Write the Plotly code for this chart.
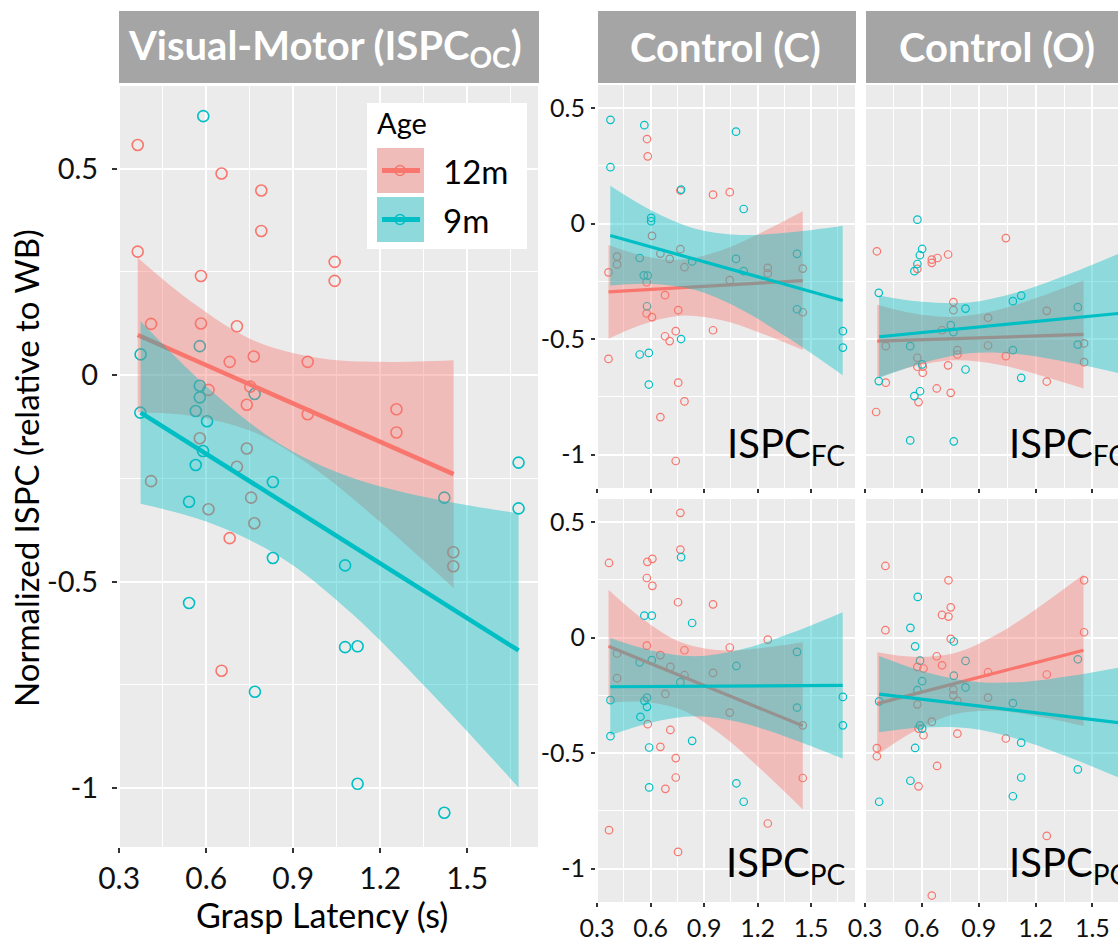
import plotly.graph_objects as go

W, H = 1118, 940
FONT = "Lato, 'Open Sans', sans-serif"
RED = "#F8766D"
TEAL = "#00BFC4"
RED_FILL = "rgba(248,118,109,0.4)"
TEAL_FILL = "rgba(0,191,196,0.4)"

# ---------------- data ----------------
XT = [0.3, 0.6, 0.9, 1.2, 1.5]
XT_TXT = ["0.3", "0.6", "0.9", "1.2", "1.5"]
XM = [0.45, 0.75, 1.05, 1.35, 1.65]
YT = [-1, -0.5, 0, 0.5]
YT_TXT = ["-1", "-0.5", "0", "0.5"]
YM = [-0.75, -0.25, 0.25]

# Visual-Motor (ISPC_OC)
VM_RED_X = [0.364, 0.653, 0.790, 0.790, 0.364, 0.582, 1.043, 1.043, 0.410, 0.582, 0.706, 0.681, 0.764, 0.950, 0.608,
            0.752, 0.740, 0.950, 1.256, 1.256, 0.578, 0.740, 0.706, 0.410, 0.608, 0.755, 0.766, 0.681, 0.653, 1.452, 1.452]
VM_RED_Y = [0.557, 0.488, 0.447, 0.349, 0.299, 0.240, 0.274, 0.228, 0.124, 0.125, 0.118, 0.032, 0.045, 0.032, -0.036,
            -0.028, -0.072, -0.095, -0.083, -0.139, -0.153, -0.178, -0.222, -0.257, -0.325, -0.297, -0.359, -0.395, -0.716, -0.429, -0.463]
VM_TEAL_X = [0.590, 0.374, 0.578, 0.373, 0.578, 0.578, 0.564, 0.603, 0.589, 0.564, 0.767, 1.677, 0.830, 0.541, 0.830,
             1.079, 0.541, 1.079, 1.122, 0.768, 1.122, 1.421, 1.421, 1.677]
VM_TEAL_Y = [0.627, 0.050, 0.070, -0.091, -0.054, -0.026, -0.087, -0.112, -0.184, -0.218, -0.046, -0.212, -0.259, -0.307, -0.443,
             -0.461, -0.552, -0.659, -0.657, -0.767, -0.990, -1.060, -0.297, -0.323]

# Control (C), ISPC_FC
FC_RED_X = [0.580, 0.584, 0.767, 0.950, 1.044, 0.364, 0.412, 0.412, 0.608, 0.655, 0.707, 0.767, 0.790, 1.044, 1.257, 1.257,
            1.453, 1.453, 0.578, 0.681, 0.578, 0.608, 0.755, 0.950, 0.741, 0.681, 0.707, 0.364, 0.755, 0.790, 0.655, 0.741]
FC_RED_Y = [0.366, 0.291, 0.143, 0.125, 0.136, -0.211, -0.143, -0.177, -0.053, -0.130, -0.153, -0.111, -0.189, -0.245, -0.192, -0.216,
            -0.195, -0.384, -0.254, -0.310, -0.389, -0.405, -0.375, -0.462, -0.466, -0.488, -0.509, -0.586, -0.689, -0.770, -0.838, -1.028]
FC_TEAL_X = [0.375, 0.565, 0.375, 1.079, 0.771, 1.122, 0.603, 0.603, 0.539, 0.562, 0.584, 0.833, 1.079, 1.122, 1.421, 1.421,
             0.580, 0.771, 0.539, 0.590, 0.590, 1.678, 1.678]
FC_TEAL_Y = [0.449, 0.426, 0.244, 0.398, 0.147, 0.063, 0.025, 0.010, -0.149, -0.224, -0.225, -0.164, -0.153, -0.206, -0.131, -0.371,
             -0.358, -0.500, -0.567, -0.560, -0.697, -0.466, -0.537]

# Control (O), ISPC_FO
FO_RED_X = [0.362, 0.358, 0.409, 0.409, 0.576, 0.576, 0.582, 0.652, 0.652, 0.682, 0.576, 0.604, 0.604, 0.738, 0.738,
            0.678, 0.752, 0.766, 0.766, 0.787, 0.787, 0.706, 0.949, 0.949, 1.043, 1.043, 1.259, 1.259, 1.456, 1.456]
FO_RED_Y = [-0.120, -0.816, -0.531, -0.689, -0.196, -0.581, -0.773, -0.156, -0.170, -0.149, -0.620, -0.620, -0.646, -0.134, -0.614,
            -0.714, -0.733, -0.340, -0.375, -0.548, -0.567, -0.462, -0.408, -0.528, -0.063, -0.574, -0.378, -0.684, -0.519, -0.600]
FO_TEAL_X = [0.576, 0.601, 0.589, 0.576, 0.560, 0.372, 0.372, 0.538, 0.601, 0.590, 0.560, 0.538, 0.768, 0.766, 0.752,
             0.830, 0.830, 1.080, 1.124, 1.080, 1.124, 1.423, 1.423]
FO_TEAL_Y = [0.017, -0.110, -0.137, -0.175, -0.206, -0.300, -0.682, -0.531, -0.610, -0.726, -0.747, -0.939, -0.943, -0.470, -0.440,
             -0.368, -0.632, -0.336, -0.312, -0.548, -0.668, -0.362, -0.524]

# Control (C), ISPC_PC
PC_RED_X = [0.767, 0.767, 0.367, 0.582, 0.610, 0.579, 0.610, 0.754, 0.950, 0.579, 0.790, 1.044, 1.257, 0.655, 0.412, 0.711,
            0.790, 0.412, 0.683, 0.950, 1.044, 1.453, 0.584, 0.711, 0.655, 0.741, 0.741, 0.683, 1.453, 1.257, 0.367, 0.754]
PC_RED_Y = [0.540, 0.381, 0.323, 0.328, 0.341, 0.258, 0.224, 0.153, 0.144, -0.035, -0.055, -0.043, -0.009, -0.076, -0.069, -0.127,
            -0.163, -0.176, -0.244, -0.153, -0.325, -0.380, -0.375, -0.400, -0.473, -0.522, -0.606, -0.655, -0.608, -0.805, -0.834, -0.928]
PC_TEAL_X = [0.771, 0.565, 0.607, 0.833, 0.539, 0.607, 0.767, 1.081, 1.421, 0.375, 0.565, 0.580, 0.580, 0.543, 0.375, 0.592,
             0.833, 0.592, 1.081, 1.122, 1.421, 1.678, 1.678]
PC_TEAL_Y = [0.348, 0.095, 0.095, 0.063, -0.107, -0.098, -0.193, -0.123, -0.062, -0.271, -0.274, -0.260, -0.300, -0.343, -0.427, -0.476,
             -0.447, -0.649, -0.631, -0.711, -0.303, -0.257, -0.380]

# Control (O), ISPC_PO
PO_RED_X = [0.407, 0.740, 0.752, 0.706, 0.740, 0.407, 0.752, 0.678, 0.706, 0.576, 0.608, 0.949, 1.259, 1.456, 1.456, 0.576,
            0.652, 0.766, 0.766, 0.787, 0.949, 0.582, 0.608, 0.787, 1.043, 0.362, 0.362, 0.680, 0.582, 1.259, 0.652]
PO_RED_Y = [0.310, 0.248, 0.131, 0.098, 0.091, 0.032, -0.006, -0.081, -0.120, -0.127, -0.134, -0.150, -0.160, 0.248, 0.023, -0.289,
            -0.364, -0.225, -0.250, -0.274, -0.260, -0.394, -0.423, -0.416, -0.437, -0.479, -0.514, -0.556, -0.644, -0.859, -1.117]
PO_TEAL_X = [0.578, 0.539, 0.564, 0.768, 0.590, 0.830, 0.601, 0.768, 0.830, 1.423, 0.374, 1.080, 0.576, 0.590, 0.601, 0.564,
             1.124, 0.539, 1.124, 1.080, 1.423, 0.374]
PO_TEAL_Y = [0.176, 0.042, -0.038, -0.017, -0.100, -0.101, -0.189, -0.165, -0.216, -0.094, -0.276, -0.284, -0.228, -0.380, -0.394, -0.478,
             -0.455, -0.620, -0.606, -0.687, -0.571, -0.711]

# fitted lines (ends) and confidence ribbons
FIT_RED_X = [0.364, 1.453]
FIT_TEAL_X = [0.374, 1.677]
BAND_RED_X = [0.364, 0.55, 0.77, 1.0, 1.2, 1.453]
BAND_TEAL_X = [0.374, 0.6, 0.85, 1.1, 1.4, 1.677]

VM_RED_FIT = [0.097, -0.240]
VM_TEAL_FIT = [-0.091, -0.667]
VM_RED_UP = [0.284, 0.177, 0.082, 0.040, 0.032, 0.036]
VM_RED_LO = [-0.090, -0.099, -0.140, -0.240, -0.356, -0.516]
VM_TEAL_UP = [0.130, -0.027, -0.165, -0.248, -0.302, -0.335]
VM_TEAL_LO = [-0.312, -0.355, -0.438, -0.576, -0.788, -0.999]

FC_RED_FIT = [-0.296, -0.247]
FC_TEAL_FIT = [-0.052, -0.333]
FC_RED_UP = [-0.093, -0.138, -0.157, -0.115, -0.047, 0.053]
FC_RED_LO = [-0.499, -0.438, -0.399, -0.419, -0.469, -0.547]
FC_TEAL_UP = [0.164, 0.059, -0.022, -0.049, -0.036, -0.009]
FC_TEAL_LO = [-0.268, -0.261, -0.288, -0.369, -0.510, -0.657]

FO_RED_FIT = [-0.509, -0.480]
FO_TEAL_FIT = [-0.490, -0.386]
FO_RED_UP = [-0.351, -0.388, -0.404, -0.374, -0.323, -0.246]
FO_RED_LO = [-0.667, -0.620, -0.592, -0.610, -0.651, -0.714]
FO_TEAL_UP = [-0.311, -0.339, -0.342, -0.299, -0.211, -0.117]
FO_TEAL_LO = [-0.669, -0.605, -0.562, -0.565, -0.605, -0.655]

PC_RED_FIT = [-0.038, -0.382]
PC_TEAL_FIT = [-0.213, -0.207]
PC_RED_UP = [0.207, 0.084, -0.020, -0.055, -0.047, -0.020]
PC_RED_LO = [-0.283, -0.278, -0.312, -0.423, -0.557, -0.744]
PC_TEAL_UP = [-0.002, -0.055, -0.081, -0.053, 0.023, 0.110]
PC_TEAL_LO = [-0.424, -0.369, -0.341, -0.367, -0.441, -0.524]

PO_RED_FIT = [-0.286, -0.055]
PO_TEAL_FIT = [-0.245, -0.372]
PO_RED_UP = [-0.064, -0.083, -0.068, 0.015, 0.122, 0.273]
PO_RED_LO = [-0.508, -0.410, -0.332, -0.317, -0.340, -0.383]
PO_TEAL_UP = [-0.080, -0.145, -0.189, -0.194, -0.164, -0.124]
PO_TEAL_LO = [-0.410, -0.389, -0.393, -0.438, -0.526, -0.620]

STRIP_LABELS = ["Visual-Motor (ISPC<sub>OC</sub>)", "Control (C)", "Control (O)"]
INSET_LABELS = ["ISPC<sub>FC</sub>", "ISPC<sub>FO</sub>", "ISPC<sub>PC</sub>", "ISPC<sub>PO</sub>"]
LEGEND_TITLE = "Age"
LEGEND_LABELS = ["12m", "9m"]

# ---------------- helpers ----------------
def fx(p):
    return p / W

def fy(p):
    return 1 - p / H

fig = go.Figure()

panels = [
    ("x", "y", VM_RED_X, VM_RED_Y, VM_TEAL_X, VM_TEAL_Y, VM_RED_FIT, VM_TEAL_FIT,
     VM_RED_UP, VM_RED_LO, VM_TEAL_UP, VM_TEAL_LO, 11, 1.6, 4.5),
    ("x2", "y2", FC_RED_X, FC_RED_Y, FC_TEAL_X, FC_TEAL_Y, FC_RED_FIT, FC_TEAL_FIT,
     FC_RED_UP, FC_RED_LO, FC_TEAL_UP, FC_TEAL_LO, 7.5, 1.2, 3.2),
    ("x3", "y3", FO_RED_X, FO_RED_Y, FO_TEAL_X, FO_TEAL_Y, FO_RED_FIT, FO_TEAL_FIT,
     FO_RED_UP, FO_RED_LO, FO_TEAL_UP, FO_TEAL_LO, 7.5, 1.2, 3.2),
    ("x4", "y4", PC_RED_X, PC_RED_Y, PC_TEAL_X, PC_TEAL_Y, PC_RED_FIT, PC_TEAL_FIT,
     PC_RED_UP, PC_RED_LO, PC_TEAL_UP, PC_TEAL_LO, 7.5, 1.2, 3.2),
    ("x5", "y5", PO_RED_X, PO_RED_Y, PO_TEAL_X, PO_TEAL_Y, PO_RED_FIT, PO_TEAL_FIT,
     PO_RED_UP, PO_RED_LO, PO_TEAL_UP, PO_TEAL_LO, 7.5, 1.2, 3.2),
]

for (xa, ya, rx, ry, tx, ty, rfit, tfit, rup, rlo, tup, tlo, ms, mlw, lw) in panels:
    for px_, py_, col in ((rx, ry, RED), (tx, ty, TEAL)):
        fig.add_trace(go.Scatter(x=px_, y=py_, mode="markers", xaxis=xa, yaxis=ya, showlegend=False,
                                 hoverinfo="skip",
                                 marker=dict(symbol="circle-open", size=ms, color=col, line=dict(width=mlw, color=col))))
    for bx, up, lo, fitx, fit, col, fill in ((BAND_RED_X, rup, rlo, FIT_RED_X, rfit, RED, RED_FILL),
                                             (BAND_TEAL_X, tup, tlo, FIT_TEAL_X, tfit, TEAL, TEAL_FILL)):
        fig.add_trace(go.Scatter(x=bx, y=lo, mode="lines", xaxis=xa, yaxis=ya, showlegend=False, hoverinfo="skip",
                                 line=dict(width=0, shape="spline", color="rgba(0,0,0,0)")))
        fig.add_trace(go.Scatter(x=bx, y=up, mode="lines", xaxis=xa, yaxis=ya, showlegend=False, hoverinfo="skip",
                                 fill="tonexty", fillcolor=fill,
                                 line=dict(width=0, shape="spline", color="rgba(0,0,0,0)")))
        fig.add_trace(go.Scatter(x=fitx, y=fit, mode="lines", xaxis=xa, yaxis=ya, showlegend=False, hoverinfo="skip",
                                 line=dict(width=lw, color=col)))

# ---------------- axes ----------------
def xaxis(dom, rng, anchor, big, labels=True):
    return dict(domain=dom, range=rng, anchor=anchor, showgrid=True, gridcolor="white",
                gridwidth=2 if big else 1.5, zeroline=False, showline=False, automargin=False,
                tickmode="array", tickvals=XT, ticktext=XT_TXT, showticklabels=labels,
                ticks="outside", ticklen=5 if big else 4, tickwidth=1.5, tickcolor="#333333",
                ticklabelstandoff=0,
                tickfont=dict(family=FONT, size=30 if big else 25, color="#111111"),
                minor=dict(tickmode="array", tickvals=XM, showgrid=True, gridcolor="white",
                           gridwidth=1.1 if big else 0.8))

def yaxis(dom, rng, anchor, big, labels=True):
    return dict(domain=dom, range=rng, anchor=anchor, showgrid=True, gridcolor="white",
                gridwidth=2 if big else 1.5, zeroline=False, showline=False, automargin=False,
                tickmode="array", tickvals=YT, ticktext=YT_TXT, showticklabels=labels,
                ticks=("outside" if labels else ""), ticklen=5 if big else 4, tickwidth=1.5, tickcolor="#333333",
                ticklabelstandoff=8 if big else 1,
                tickfont=dict(family=FONT, size=29 if big else 25, color="#111111"),
                minor=dict(tickmode="array", tickvals=YM, showgrid=True, gridcolor="white",
                           gridwidth=1.1 if big else 0.8))

XL = [fx(118), fx(538)]
XC = [fx(596), fx(855)]
XO = [fx(864), 1.0]
YL = [fy(847), fy(86)]
YTOP = [fy(488), fy(85)]
YBOT = [fy(902), fy(499)]
RX_L = [0.296, 1.744]
RX_C = [0.294, 1.746]
RX_O = [0.294, 0.294 + (1118 - 864) / 189.4]
RY_L = [-1.143, 0.70]
RY_S = [-1.145, 0.60]

fig.update_layout(
    xaxis=xaxis(XL, RX_L, "y", True),
    yaxis=yaxis(YL, RY_L, "x", True),
    xaxis2=xaxis(XC, RX_C, "y2", False, labels=False),
    yaxis2=yaxis(YTOP, RY_S, "x2", False),
    xaxis3=xaxis(XO, RX_O, "y3", False, labels=False),
    yaxis3=yaxis(YTOP, RY_S, "x3", False, labels=False),
    xaxis4=xaxis(XC, RX_C, "y4", False),
    yaxis4=yaxis(YBOT, RY_S, "x4", False),
    xaxis5=xaxis(XO, RX_O, "y5", False),
    yaxis5=yaxis(YBOT, RY_S, "x5", False, labels=False),
)

shapes = []
annotations = []

# strips
STRIP_BOXES = [(119, 539), (598, 856), (866, 1135)]
STRIP_CENTERS = [325, 725, 997]
for (x0, x1), cx, lab in zip(STRIP_BOXES, STRIP_CENTERS, STRIP_LABELS):
    shapes.append(dict(type="rect", xref="paper", yref="paper", x0=fx(x0), x1=fx(x1), y0=fy(83), y1=fy(11),
                       fillcolor="#A5A5A5", line=dict(width=0), layer="below"))
    annotations.append(dict(xref="paper", yref="paper", x=fx(cx), y=fy(47), text="<b>%s</b>" % lab,
                            showarrow=False, xanchor="center", yanchor="middle",
                            font=dict(family=FONT, size=40, color="white")))

# inset labels
INSET_POS = [(847, 474, "right"), (1007, 474, "left"), (847, 893, "right"), (1007, 893, "left")]
for (x, y, anc), lab in zip(INSET_POS, INSET_LABELS):
    annotations.append(dict(xref="paper", yref="paper", x=fx(x), y=fy(y), text=lab, showarrow=False,
                            xanchor=anc, yanchor="bottom", font=dict(family=FONT, size=40, color="black")))

# axis titles
annotations.append(dict(xref="paper", yref="paper", x=fx(322), y=fy(914), text="Grasp Latency (s)",
                        showarrow=False, xanchor="center", yanchor="middle",
                        font=dict(family=FONT, size=34, color="black")))
annotations.append(dict(xref="paper", yref="paper", x=fx(26), y=fy(468), text="Normalized ISPC (relative to WB)",
                        showarrow=False, xanchor="center", yanchor="middle", textangle=-90,
                        font=dict(family=FONT, size=33, color="black")))

# legend (drawn by hand, ggplot style)
shapes.append(dict(type="rect", xref="paper", yref="paper", x0=fx(367), x1=fx(527), y0=fy(249), y1=fy(103),
                   fillcolor="white", line=dict(width=0)))
annotations.append(dict(xref="paper", yref="paper", x=fx(375), y=fy(122), text=LEGEND_TITLE, showarrow=False,
                        xanchor="left", yanchor="middle", font=dict(family=FONT, size=29, color="black")))
KEY_ROWS = [(148, 193, RED, RED_FILL), (197, 242, TEAL, TEAL_FILL)]
for (y0, y1, col, fill), lab in zip(KEY_ROWS, LEGEND_LABELS):
    cy = (y0 + y1) / 2
    shapes.append(dict(type="rect", xref="paper", yref="paper", x0=fx(377), x1=fx(424), y0=fy(y1), y1=fy(y0),
                       fillcolor="#EBEBEB", line=dict(width=0)))
    shapes.append(dict(type="rect", xref="paper", yref="paper", x0=fx(377), x1=fx(424), y0=fy(y1), y1=fy(y0),
                       fillcolor=fill, line=dict(width=0)))
    shapes.append(dict(type="line", xref="paper", yref="paper", x0=fx(382), x1=fx(420), y0=fy(cy), y1=fy(cy),
                       line=dict(color=col, width=5)))
    shapes.append(dict(type="circle", xref="paper", yref="paper", x0=fx(395), x1=fx(405), y0=fy(cy + 5),
                       y1=fy(cy - 5), line=dict(color=col, width=1.5)))
    annotations.append(dict(xref="paper", yref="paper", x=fx(441), y=fy(cy), text=lab, showarrow=False,
                            xanchor="left", yanchor="middle", font=dict(family=FONT, size=33, color="black")))

fig.update_layout(
    width=W, height=H, margin=dict(l=0, r=0, t=0, b=0, autoexpand=False),
    paper_bgcolor="white", plot_bgcolor="#EBEBEB",
    showlegend=False, shapes=shapes, annotations=annotations,
    font=dict(family=FONT, color="black"),
)

fig.write_html("out.html")
